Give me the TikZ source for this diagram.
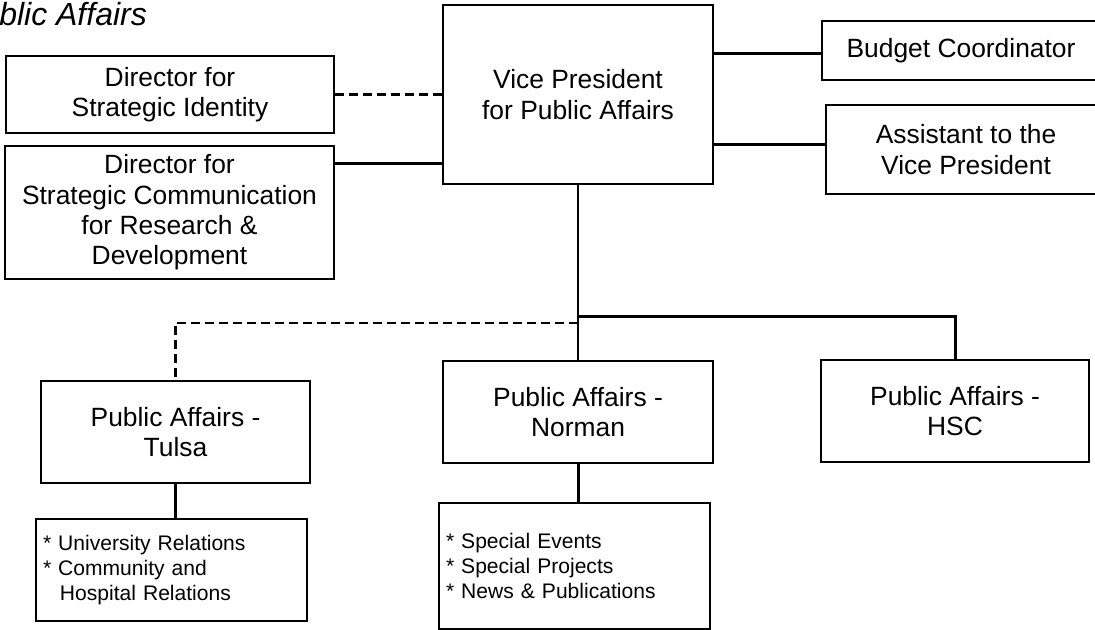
\documentclass[tikz,border=0pt]{standalone}
\usepackage{fontspec}
\setmainfont{Liberation Sans}
\usepackage{tikz}

\begin{document}
\begin{tikzpicture}[x=0.75pt,y=0.75pt,yscale=-1,xscale=1,
	unitbox/.style={draw, line width=1.5pt, inner sep=0pt, align=center, font=\fontsize{19.8}{22.75}\selectfont},
	listbox/.style={draw, line width=1.5pt, inner xsep=5.25pt, inner ysep=0pt, align=left, text width=192.75pt, font=\fontsize{15.8}{18.6}\selectfont},
	solidlink/.style={line width=2.25pt},
	dashlink/.style={line width=1.8pt, dash pattern=on 6.75pt off 3.75pt}]
			\useasboundingbox (0,0) rectangle (1095,630);

			% Text Node
			\node [anchor=base west, inner sep=0pt, font=\fontsize{24}{28}\selectfont\itshape] (ttl) at (-1,26) {blic Affairs};

			%Shape: Rectangle
			\node [unitbox, minimum width=202.5pt, minimum height=134.25pt] (vp) at (578,94.5) {Vice President\\for Public Affairs};
			%Shape: Rectangle
			\node [unitbox, minimum width=246pt, minimum height=57.75pt] (strid) at (170,94.5) {Director for\\Strategic Identity};
			%Shape: Rectangle
			\node [unitbox, minimum width=246.75pt, minimum height=99.75pt] (strcom) at (169.5,212.5) {Director for\\Strategic Communication\\for Research \&\\Development};
			%Shape: Rectangle
			\node [unitbox, minimum width=208.5pt, minimum height=44.25pt] (budget) at (961,50.5) {Budget Coordinator};
			%Shape: Rectangle
			\node [unitbox, minimum width=210pt, minimum height=66.75pt] (asst) at (966,149.5) {Assistant to the\\Vice President};

			%Shape: Rectangle
			\node [unitbox, minimum width=201.75pt, minimum height=76.5pt] (tulsa) at (175.5,432) {Public Affairs -\\Tulsa};
			%Shape: Rectangle
			\node [unitbox, minimum width=202.5pt, minimum height=76.5pt] (norman) at (578,412) {Public Affairs -\\Norman};
			%Shape: Rectangle
			\node [unitbox, minimum width=201pt, minimum height=76.5pt] (hsc) at (955,411) {Public Affairs -\\HSC};

			%Shape: Rectangle
			\node [listbox, minimum height=76.5pt] (tulsasub) at (171.5,570) {* University Relations\\{}* Community and\\\hspace*{12.7pt}Hospital Relations};
			%Shape: Rectangle
			\node [listbox, minimum height=94.5pt] (normansub) at (574.5,566) {* Special Events\\{}* Special Projects\\{}* News \& Publications};

			% Coordinates
			\coordinate (budin) at ([yshift=1.9pt]budget.west);
			\coordinate (asstin) at ([yshift=-4.1pt]asst.west);
			\coordinate (comin) at ([yshift=-36.4pt]strcom.east);
			\coordinate (bus) at (578,316.5);
			\coordinate (dbus) at (578,323);

			%Straight Lines
			\draw [dashlink] (strid.east) -- (strid.east -| vp.west);
			%Straight Lines
			\draw [solidlink] (comin) -- (comin -| vp.west);
			%Straight Lines
			\draw [solidlink] (budin -| vp.east) -- (budin);
			%Straight Lines
			\draw [solidlink] (asstin -| vp.east) -- (asstin);
			%Straight Lines
			\draw [line width=1.5pt] (vp.south) -- (norman.north);
			%Straight Lines
			\draw [solidlink] (bus) -| (hsc.north);
			%Straight Lines
			\draw [dashlink] (dbus) -| (tulsa.north);
			%Straight Lines
			\draw [solidlink] (tulsa.south) -- (tulsa.south |- tulsasub.north);
			%Straight Lines
			\draw [solidlink] (norman.south) -- (norman.south |- normansub.north);
		\end{tikzpicture}
\end{document}
